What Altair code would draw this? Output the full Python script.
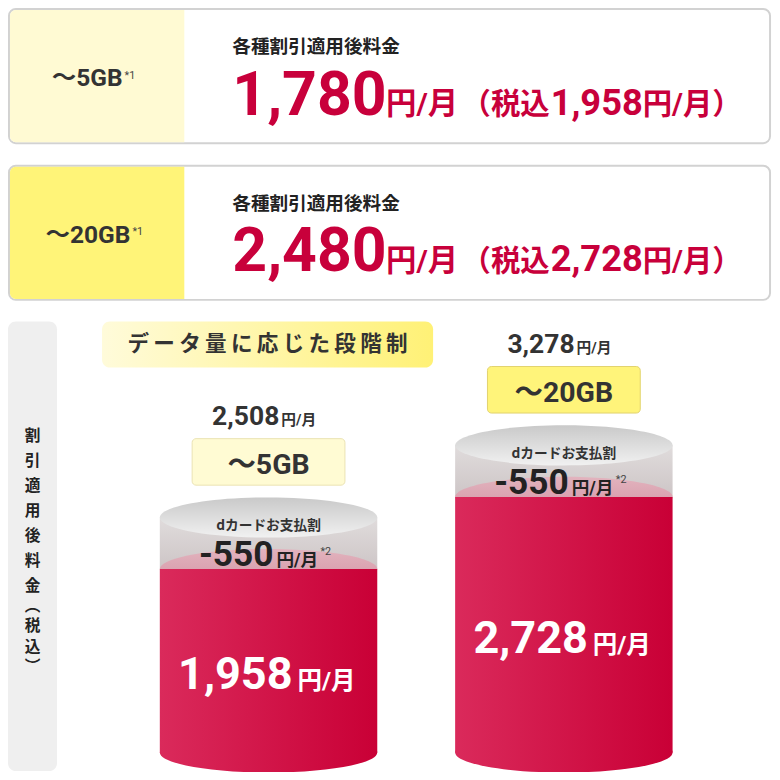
import altair as alt
import pandas as pd

# ---------------- data ----------------
plans = ["〜5GB", "〜20GB"]
price_before = [2508, 3278]        # 割引前 (税込)
dcard_discount = [550, 550]        # dカードお支払割
price_after = [1958, 2728]         # 割引適用後 (税込)
price_after_excl = [1780, 2480]    # 各種割引適用後料金 (税抜)
vertical_label = ["割", "引", "適", "用", "後", "料", "金"]
vertical_label2 = ["︵", "税", "込", "︶"]
section_title = "データ量に応じた段階制"

# ---------------- layout helpers ----------------
W = 764
s = W / 780.0


def S(v):
    return round(v * s, 2)


FONT = "Roboto, 'Noto Sans CJK JP', sans-serif"
JFONT = "'Noto Sans CJK JP', sans-serif"
RED = "#c8003b"
DARK = "#333333"

# value scale: ref px = 760 - 0.09563 * yen
B = 0.09563
YPP = 1.0 / B
YMIN = (760 - 780) / B
YMAX = 760 / B
yscale = alt.Scale(domain=[YMIN, YMAX], nice=False, zero=False)
xenc = alt.X("plan:N", axis=None,
             scale=alt.Scale(type="point", domain=plans, range=[S(266), S(567.5)], padding=0))

ONE = pd.DataFrame({"a": [0]})


def txt(text, x, y, size, color=DARK, align="left", baseline="alphabetic", weight="bold", font=FONT, **kw):
    return alt.Chart(ONE).mark_text(text=text, align=align, baseline=baseline, fontSize=S(size),
                                    fontWeight=weight, color=color, font=font, **kw).encode(
        x=alt.value(S(x)), y=alt.value(S(y)))


def rect(x1, y1, x2, y2, **kw):
    return alt.Chart(ONE).mark_rect(**kw).encode(
        x=alt.value(S(x1)), x2=alt.value(S(x2)), y=alt.value(S(y1)), y2=alt.value(S(y2)))


def lin(c1, c2, horizontal=True):
    return alt.Gradient(gradient="linear",
                        stops=[alt.GradientStop(color=c1, offset=0), alt.GradientStop(color=c2, offset=1)],
                        x1=0, x2=1 if horizontal else 0, y1=0, y2=0 if horizontal else 1)


layers = []

# ---------------- top info boxes ----------------
box_fills = ["#fffad3", "#fff478"]
for i in range(2):
    oy = 160 * i
    layers.append(rect(1, 1 + oy, 778, 138 + oy, fill="white", stroke="#d2d2d2", strokeWidth=S(2),
                       cornerRadius=S(7)))
    layers.append(rect(2, 2 + oy, 180, 137 + oy, fill=box_fills[i],
                       cornerRadiusTopLeft=S(6), cornerRadiusBottomLeft=S(6)))
    layers.append(txt(plans[i], 117 + 8 * i, 80 + oy, 25, align="right"))
    layers.append(txt("*1", 119 + 8 * i, 72 + oy, 11, weight="normal", color="#444"))
    layers.append(txt("各種割引適用後料金", 229, 40 + oy, 19, color="#222", baseline="middle", font=JFONT))
    layers.append(txt(f"{price_after_excl[i]:,}", 229, 109 + oy, 62, color=RED))
    layers.append(txt("円/月", 386, 108 + oy, 31, color=RED))
    layers.append(txt("（税込", 553, 108 + oy, 30, color=RED, align="right"))
    layers.append(txt(f"{price_after[i]:,}", 554, 109 + oy, 37, color=RED))
    layers.append(txt("円/月）", 648, 108 + oy, 30, color=RED))

# ---------------- side label & section title ----------------
layers.append(rect(0, 320, 50, 779, fill="#efefef", cornerRadius=S(8)))
layers.append(txt(vertical_label, 25, 430, 16, color="#222", align="center", baseline="top",
                  font=JFONT, lineHeight=S(25.5)))
layers.append(txt(vertical_label2, 25, 603, 16, color="#222", align="center", baseline="top",
                  font=JFONT, lineHeight=S(21)))
layers.append(rect(96, 320, 434, 367, fill=lin("#fffbda", "#fff176"), cornerRadius=S(8)))
layers.append(txt("\u2009".join(section_title), 265, 344, 22, align="center", baseline="middle", font=JFONT))

# ---------------- cylinders ----------------
df = pd.DataFrame({"plan": plans, "before": price_before, "disc": dcard_discount, "after": price_after})
df["before_lbl"] = [f"{v:,}" for v in price_before]
df["disc_lbl"] = [f"-{v:,}" for v in dcard_discount]
df["after_lbl"] = [f"{v:,}" for v in price_after]

base = alt.Chart(df).transform_calculate(
    zero="0",
    half="datum.after / 2",
    box_top=f"datum.before + {80.5 * YPP}",
    box_bot=f"datum.before + {33 * YPP}",
)

CW = S(222)
ELL = "M-1,0A1,0.185,0,1,1,1,0A1,0.185,0,1,1,-1,0Z"
red_grad = lin("#da2a5b", "#c90036")


def Y(field):
    return alt.Y(field, scale=yscale, axis=None)


# grey (discount) section
layers.append(base.mark_bar(size=CW, fill=lin("#e0dcdc", "#cdc5c6", horizontal=False)).encode(
    x=xenc, y=Y("before:Q"), y2="after:Q"))
# liquid surface
layers.append(base.mark_point(shape=ELL, size=CW * CW, filled=True, opacity=1, strokeWidth=0,
                              fill=lin("#e2b3be", "#d393a3", horizontal=False)).encode(
    x=xenc, y=Y("after:Q")))
# red body
layers.append(base.mark_bar(size=CW, fill=red_grad).encode(x=xenc, y=Y("after:Q"), y2="zero:Q"))
layers.append(base.mark_point(shape=ELL, size=CW * CW, filled=True, opacity=1, strokeWidth=0,
                              fill=red_grad).encode(x=xenc, y=Y("zero:Q")))
# top lid
layers.append(base.mark_point(shape=ELL, size=CW * CW, filled=True, opacity=1, strokeWidth=0,
                              fill=lin("#c9c9c9", "#f1f1f1", horizontal=False)).encode(
    x=xenc, y=Y("before:Q")))

# texts on lid
layers.append(base.mark_text(text="dカードお支払割", fontSize=S(14), fontWeight="bold", color=DARK,
                             font=JFONT, baseline="middle", dy=S(8.5)).encode(x=xenc, y=Y("before:Q")))
layers.append(base.mark_text(align="right", baseline="alphabetic", fontSize=S(36), fontWeight="bold",
                             color="#222", font=FONT, dx=S(5), dy=S(49.5)).encode(
    x=xenc, y=Y("before:Q"), text="disc_lbl:N"))
layers.append(base.mark_text(text="円/月", align="left", baseline="alphabetic", fontSize=S(18),
                             fontWeight="bold", color="#222", font=FONT, dx=S(8), dy=S(49.5)).encode(
    x=xenc, y=Y("before:Q")))
layers.append(base.mark_text(text="*2", align="left", baseline="alphabetic", fontSize=S(11),
                             color="#444", font=FONT, dx=S(53), dy=S(38)).encode(x=xenc, y=Y("before:Q")))

# plan boxes above
layers.append(base.mark_bar(size=S(156), cornerRadius=S(4), strokeWidth=1).encode(
    x=xenc, y=Y("box_top:Q"), y2="box_bot:Q",
    fill=alt.Fill("plan:N", legend=None, scale=alt.Scale(domain=plans, range=["#fffbd3", "#fff47a"])),
    stroke=alt.Stroke("plan:N", legend=None, scale=alt.Scale(domain=plans, range=["#ebe3b3", "#e2d36e"]))))
layers.append(base.mark_text(align="center", baseline="alphabetic", fontSize=S(29), fontWeight="bold",
                             color=DARK, font=FONT, dy=S(-44)).encode(x=xenc, y=Y("before:Q"), text="plan:N"))
# price before discount
layers.append(base.mark_text(align="right", baseline="alphabetic", fontSize=S(27), fontWeight="bold",
                             color=DARK, font=FONT, dx=S(11), dy=S(-94.5)).encode(
    x=xenc, y=Y("before:Q"), text="before_lbl:N"))
layers.append(base.mark_text(text="円/月", align="left", baseline="alphabetic", fontSize=S(15),
                             fontWeight="bold", color=DARK, font=FONT, dx=S(13), dy=S(-94.5)).encode(
    x=xenc, y=Y("before:Q")))

# price after discount (white, inside body)
layers.append(base.mark_text(align="right", baseline="alphabetic", fontSize=S(46), fontWeight="bold",
                             color="white", font=FONT, dx=S(24.5), dy=S(29)).encode(
    x=xenc, y=Y("half:Q"), text="after_lbl:N"))
layers.append(base.mark_text(text="円/月", align="left", baseline="alphabetic", fontSize=S(25),
                             fontWeight="bold", color="white", font=FONT, dx=S(29.5), dy=S(29)).encode(
    x=xenc, y=Y("half:Q")))

chart = alt.layer(*layers).properties(
    width=W, height=W, padding=0, autosize=alt.AutoSizeParams(type="none"), background="white"
).configure_view(stroke=None)

chart.save("out.html", embed_options={"renderer": "svg", "actions": False})
